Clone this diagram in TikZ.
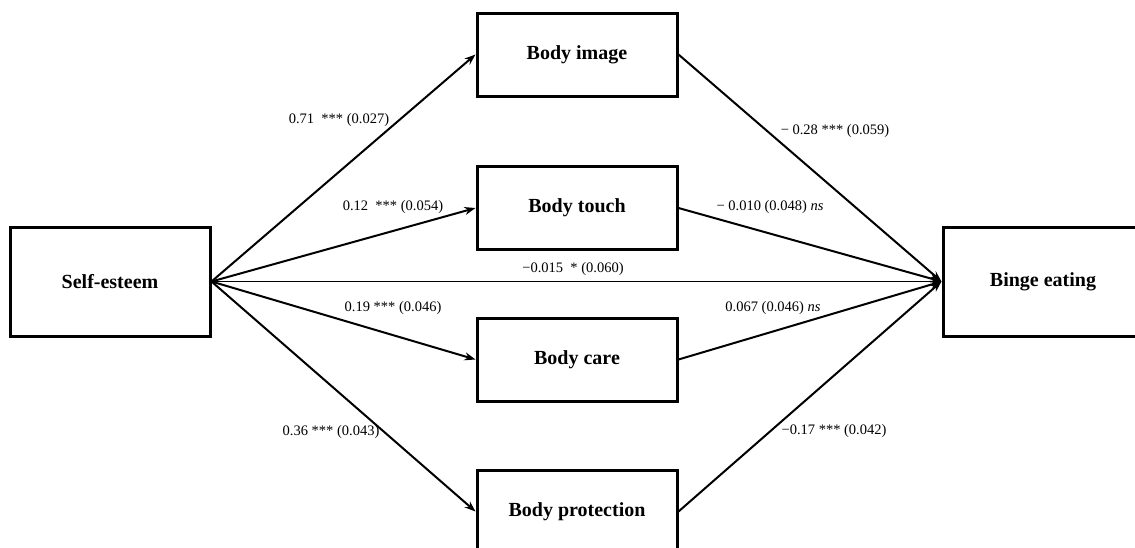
\documentclass[tikz,border=0pt]{standalone}
\usepackage{fontspec}
\setmainfont{Liberation Serif}
\usetikzlibrary{arrows.meta}
\begin{document}
\begin{tikzpicture}[x=1pt,y=-1pt,
 box/.style={draw, line width=3pt, minimum width=200pt, minimum height=83pt, inner sep=0pt, font=\fontsize{20}{24}\selectfont\bfseries},
 bigbox/.style={box, minimum height=109pt},
 arr/.style={line width=2pt, -{Stealth[length=11pt,width=8pt]}},
 direct/.style={line width=1.2pt, -{Stealth[length=11pt,width=8pt]}},
 lab/.style={font=\fontsize{14.5}{17}\selectfont, inner sep=0pt}]
\clip (0,0) rectangle (1135,547);
\fill[white] (0,0) rectangle (1135,547);
\node[bigbox] (se) at (110,281.5) {Self-esteem};
\node[bigbox] (be) at (1043,281.5) {Binge eating};
\node[box] (bi) at (577,54.5) {Body image};
\node[box] (bt) at (577,208) {Body touch};
\node[box] (bc) at (577,359.5) {Body care};
\node[box] (bp) at (577,511.5) {Body protection};
\draw[arr] (se.east) -- (bi.west);
\draw[arr] (se.east) -- (bt.west);
\draw[arr] (se.east) -- (bc.west);
\draw[arr] (se.east) -- (bp.west);
\draw[direct] (se.east) -- (be.west);
\draw[arr] (bi.east) -- (be.west);
\draw[arr] (bt.east) -- (be.west);
\draw[arr] (bc.east) -- (be.west);
\draw[arr] (bp.east) -- (be.west);
\node[lab] (l1) at (339,120) {0.71 \ *** (0.027)};
\node[lab] (l2) at (393,207) {0.12 \ *** (0.054)};
\node[lab] (l3) at (573,269) {−0.015 \ * (0.060)};
\node[lab] (l4) at (393,308) {0.19 *** (0.046)};
\node[lab] (l5) at (331,432) {0.36 *** (0.043)};
\node[lab] (l6) at (835,131) {− 0.28 *** (0.059)};
\node[lab] (l7) at (770,207) {− 0.010 (0.048) \textit{ns}};
\node[lab] (l8) at (773,308) {0.067 (0.046) \textit{ns}};
\node[lab] (l9) at (834,431) {−0.17 *** (0.042)};
\end{tikzpicture}
\end{document}
